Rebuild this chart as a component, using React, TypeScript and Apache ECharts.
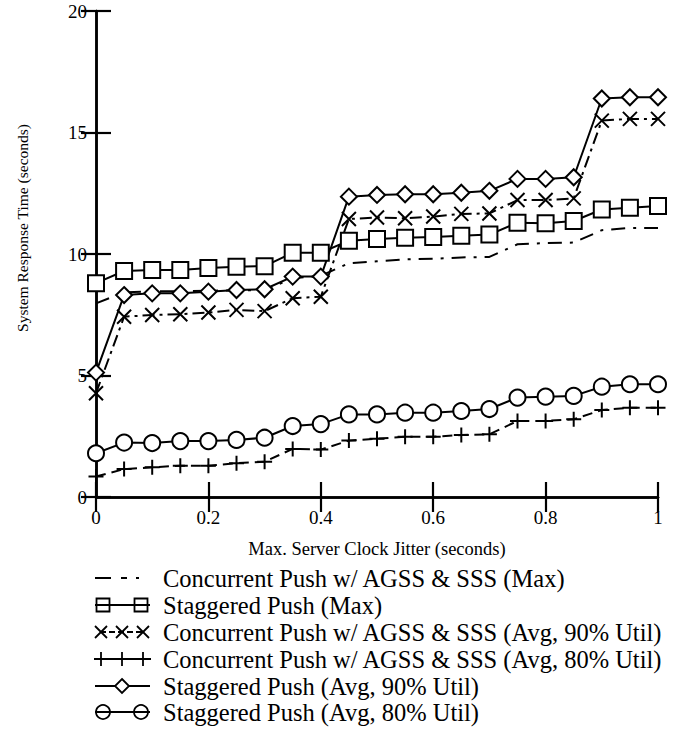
import React, { useEffect, useRef } from 'react';
import * as echarts from 'echarts';

const jitter = [0, 0.05, 0.1, 0.15, 0.2, 0.25, 0.3, 0.35, 0.4, 0.45, 0.5, 0.55, 0.6, 0.65, 0.7, 0.75, 0.8, 0.85, 0.9, 0.95, 1];

const concurrentMax = [7.97, 8.42, 8.46, 8.47, 8.49, 8.5, 8.52, 9.0, 9.1, 9.62, 9.7, 9.78, 9.8, 9.86, 9.88, 10.4, 10.45, 10.47, 10.98, 11.07, 11.07];
const staggeredMax = [8.8, 9.3, 9.34, 9.34, 9.42, 9.48, 9.5, 10.05, 10.05, 10.55, 10.62, 10.67, 10.7, 10.75, 10.8, 11.29, 11.27, 11.36, 11.83, 11.9, 11.98];
const concurrentAvg90 = [4.27, 7.42, 7.49, 7.52, 7.59, 7.7, 7.65, 8.18, 8.24, 11.44, 11.5, 11.47, 11.54, 11.65, 11.67, 12.22, 12.22, 12.29, 15.49, 15.56, 15.56];
const concurrentAvg80 = [0.84, 1.15, 1.22, 1.29, 1.29, 1.39, 1.45, 1.98, 1.95, 2.32, 2.4, 2.48, 2.48, 2.55, 2.58, 3.13, 3.13, 3.2, 3.58, 3.67, 3.67];
const staggeredAvg90 = [5.12, 8.31, 8.38, 8.38, 8.45, 8.52, 8.55, 9.07, 9.07, 12.36, 12.43, 12.46, 12.46, 12.52, 12.6, 13.09, 13.09, 13.16, 16.4, 16.45, 16.45];
const staggeredAvg80 = [1.8, 2.24, 2.22, 2.3, 2.3, 2.35, 2.44, 2.92, 3.0, 3.4, 3.4, 3.47, 3.47, 3.54, 3.62, 4.09, 4.13, 4.16, 4.54, 4.64, 4.64];

const seriesNames = [
  'Concurrent Push w/ AGSS & SSS (Max)',
  'Staggered Push (Max)',
  'Concurrent Push w/ AGSS & SSS (Avg, 90% Util)',
  'Concurrent Push w/ AGSS & SSS (Avg, 80% Util)',
  'Staggered Push (Avg, 90% Util)',
  'Staggered Push (Avg, 80% Util)',
];

const xRange = [0, 1];
const xStep = 0.2;
const yRange = [0, 20];
const yStep = 5;
const xTitle = 'Max. Server Clock Jitter (seconds)';
const yTitle = 'System Response Time (seconds)';

const FONT = 'Liberation Serif';
const BLACK = '#000';

const pairs = (ys: number[]) => jitter.map((x, i) => [x, ys[i]]);

function legendGraphics() {
  const rows = [578, 605, 632, 659, 686, 712];
  const els: any[] = [];
  const ln = (x1: number, y1: number, x2: number, y2: number, w = 2, dash?: number[]) => ({
    type: 'line',
    shape: { x1, y1, x2, y2 },
    style: { stroke: BLACK, lineWidth: w, lineDash: dash },
    silent: true,
  });
  const sq = (cx: number, cy: number, s: number) => ({
    type: 'rect',
    shape: { x: cx - s / 2, y: cy - s / 2, width: s, height: s },
    style: { fill: 'none', stroke: BLACK, lineWidth: 1.8 },
    silent: true,
  });
  const circ = (cx: number, cy: number, r: number) => ({
    type: 'circle',
    shape: { cx, cy, r },
    style: { fill: 'none', stroke: BLACK, lineWidth: 1.8 },
    silent: true,
  });
  const dia = (cx: number, cy: number, r: number) => ({
    type: 'polygon',
    shape: { points: [[cx, cy - r], [cx + r, cy], [cx, cy + r], [cx - r, cy]] },
    style: { fill: '#fff', stroke: BLACK, lineWidth: 1.8 },
    silent: true,
  });
  const cross = (cx: number, cy: number, r: number) => [
    ln(cx - r, cy - r, cx + r, cy + r, 1.8),
    ln(cx + r, cy - r, cx - r, cy + r, 1.8),
  ];
  const plus = (cx: number, cy: number, r: number) => [
    ln(cx, cy - r, cx, cy + r, 1.8),
    ln(cx - r, cy, cx + r, cy, 1.8),
  ];

  let y = rows[0];
  els.push(ln(95, y, 111, y), ln(121, y, 127, y), ln(136, y, 139, y));
  y = rows[1];
  els.push(ln(95, y, 150, y), sq(103, y, 13), sq(141, y, 13));
  y = rows[2];
  els.push(ln(100, y, 144, y, 2, [6, 3]), ...cross(101, y, 6), ...cross(122, y, 6), ...cross(143, y, 6));
  y = rows[3];
  els.push(ln(94, y, 151, y), ...plus(101, y, 7), ...plus(122, y, 7), ...plus(143, y, 7));
  y = rows[4];
  els.push(ln(95, y, 150, y), dia(122, y, 7));
  y = rows[5];
  els.push(ln(95, y, 150, y), circ(103, y, 7), circ(141, y, 7));

  seriesNames.forEach((name, i) => {
    els.push({
      type: 'text',
      x: 163,
      y: rows[i],
      style: {
        text: name,
        fontFamily: FONT,
        fontSize: 24.5,
        fill: BLACK,
        align: 'left',
        verticalAlign: 'middle',
      },
      silent: true,
    });
  });
  return els;
}

export default function App() {
  const ref = useRef<HTMLDivElement>(null);

  useEffect(() => {
    if (!ref.current) return;
    const chart = echarts.init(ref.current, undefined, { renderer: 'svg' });

    const axisLine = { show: true, lineStyle: { color: BLACK, width: 2.5 } };
    const axisTick = { show: true, inside: true, length: 15, lineStyle: { color: BLACK, width: 2.2 } };
    const labelStyle = { color: BLACK, fontFamily: FONT, fontSize: 19 };

    const crossPath = 'path://M0,0L10,10M10,0L0,10';
    const plusPath = 'path://M5,0L5,10M0,5L10,5';

    const option: any = {
      animation: false,
      backgroundColor: '#fff',
      grid: { left: 96, right: 16, top: 11, bottom: 239, containLabel: false },
      xAxis: [
        {
          type: 'value',
          min: xRange[0],
          max: xRange[1],
          interval: xStep,
          position: 'bottom',
          axisLine,
          axisTick,
          splitLine: { show: false },
          axisLabel: { ...labelStyle, margin: 11 },
          name: xTitle,
          nameLocation: 'middle',
          nameGap: 42,
          nameTextStyle: { color: BLACK, fontFamily: FONT, fontSize: 18.5 },
        },
        {
          type: 'value',
          min: xRange[0],
          max: xRange[1],
          interval: xStep,
          position: 'top',
          axisLine,
          axisTick,
          splitLine: { show: false },
          axisLabel: { show: false },
        },
      ],
      yAxis: [
        {
          type: 'value',
          min: yRange[0],
          max: yRange[1],
          interval: yStep,
          position: 'left',
          axisLine,
          axisTick,
          splitLine: { show: false },
          axisLabel: { ...labelStyle, margin: 9, padding: [7, 0, 0, 0] },
          name: yTitle,
          nameLocation: 'middle',
          nameGap: 66,
          nameTextStyle: { color: BLACK, fontFamily: FONT, fontSize: 15.5, padding: [0, 0, 0, 52] },
        },
        {
          type: 'value',
          min: yRange[0],
          max: yRange[1],
          interval: yStep,
          position: 'right',
          axisLine,
          axisTick,
          splitLine: { show: false },
          axisLabel: { show: false },
        },
      ],
      series: [
        {
          name: seriesNames[0],
          type: 'line',
          data: pairs(concurrentMax),
          showSymbol: false,
          symbol: 'none',
          lineStyle: { color: BLACK, width: 2, type: [14, 8, 3, 8] },
          itemStyle: { color: BLACK },
        },
        {
          name: seriesNames[1],
          type: 'line',
          data: pairs(staggeredMax),
          symbol: 'emptyRect',
          symbolSize: 16,
          lineStyle: { color: BLACK, width: 2 },
          itemStyle: { color: BLACK, borderColor: BLACK, borderWidth: 1.8 },
        },
        {
          name: seriesNames[2],
          type: 'line',
          data: pairs(concurrentAvg90),
          symbol: crossPath,
          symbolSize: 14,
          lineStyle: { color: BLACK, width: 2, type: [12, 5, 3, 5] },
          itemStyle: { color: BLACK, borderColor: BLACK, borderWidth: 2 },
        },
        {
          name: seriesNames[3],
          type: 'line',
          data: pairs(concurrentAvg80),
          symbol: plusPath,
          symbolSize: 15,
          lineStyle: { color: BLACK, width: 2, type: [10, 6] },
          itemStyle: { color: BLACK, borderColor: BLACK, borderWidth: 2 },
        },
        {
          name: seriesNames[4],
          type: 'line',
          data: pairs(staggeredAvg90),
          symbol: 'emptyDiamond',
          symbolSize: 16,
          lineStyle: { color: BLACK, width: 2 },
          itemStyle: { color: BLACK, borderColor: BLACK, borderWidth: 1.8 },
        },
        {
          name: seriesNames[5],
          type: 'line',
          data: pairs(staggeredAvg80),
          symbol: 'emptyCircle',
          symbolSize: 16,
          lineStyle: { color: BLACK, width: 2 },
          itemStyle: { color: BLACK, borderColor: BLACK, borderWidth: 1.8 },
        },
      ],
      graphic: legendGraphics(),
    };

    chart.setOption(option);
    return () => chart.dispose();
  }, []);

  return (
    <div
      ref={ref}
      style={{ position: 'fixed', left: 0, top: 0, width: 674, height: 736, background: '#fff' }}
    />
  );
}
